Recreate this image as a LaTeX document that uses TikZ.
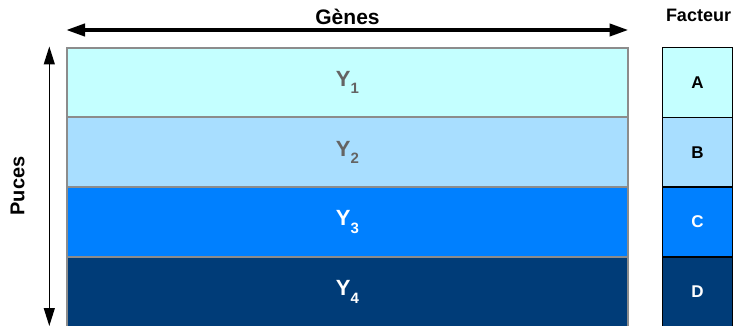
\documentclass[tikz,border=0pt]{standalone}
\usepackage{fontspec}
\setmainfont{Liberation Sans}
\usetikzlibrary{arrows.meta}
\definecolor{cA}{RGB}{196,255,255}
\definecolor{cB}{RGB}{168,222,255}
\definecolor{cC}{RGB}{0,128,255}
\definecolor{cD}{RGB}{0,60,120}
\definecolor{gtxt}{RGB}{100,100,100}
\definecolor{gbord}{RGB}{140,140,140}
\tikzset{
  band/.style={draw=gbord, line width=2pt, minimum width=561pt, minimum height=69.75pt, inner sep=0pt, font=\bfseries\fontsize{22}{22}\selectfont},
  fbox/.style={draw=black, line width=1.5pt, minimum width=70pt, minimum height=69.75pt, inner sep=0pt, font=\bfseries\fontsize{17}{17}\selectfont},
  lbl/.style={font=\bfseries\fontsize{20}{20}\selectfont, inner sep=0pt},
}
\newcommand{\ysub}[1]{Y\raisebox{-7.5pt}{\fontsize{15}{15}\selectfont #1}}
\begin{document}
\begin{tikzpicture}[x=1pt,y=-1pt]
\useasboundingbox (0,0) rectangle (735,326);
\clip (0,0) rectangle (735,326);
\node[band, fill=cA, text=gtxt] (y1) at (347.5,82.6) {\ysub{1}};
\node[band, fill=cB, text=gtxt] (y2) at (347.5,152.35) {\ysub{2}};
\node[band, fill=cC, text=white] (y3) at (347.5,222.1) {\ysub{3}};
\node[band, fill=cD, text=white] (y4) at (347.5,291.85) {\ysub{4}};
\node[fbox, fill=cA, text=black] (fa) at (697.6,82.6) {A};
\node[fbox, fill=cB, text=black] (fb) at (697.6,152.35) {B};
\node[fbox, fill=cC, text=white] (fc) at (697.6,222.1) {C};
\node[fbox, fill=cD, text=white] (fd) at (697.6,291.85) {D};
\node[lbl, font=\bfseries\fontsize{21}{21}\selectfont] (genes) at (347.5,17) {Gènes};
\node[lbl, font=\bfseries\fontsize{18}{18}\selectfont] (fact) at (698.5,15) {Facteur};
\node[lbl, rotate=90] (puces) at (17.5,186) {Puces};
\coordinate (hl) at (66,30);
\coordinate (hr) at (628.5,30);
\coordinate (vt) at (49.3,46.5);
\coordinate (vb) at (49.3,326);
\draw[line width=4pt, {Triangle[length=19pt,width=12pt]}-{Triangle[length=19pt,width=12pt]}] (hl) -- (hr);
\draw[line width=1.3pt, {Triangle[length=18pt,width=11pt]}-{Triangle[length=18pt,width=11pt]}] (vt) -- (vb);
\end{tikzpicture}
\end{document}
